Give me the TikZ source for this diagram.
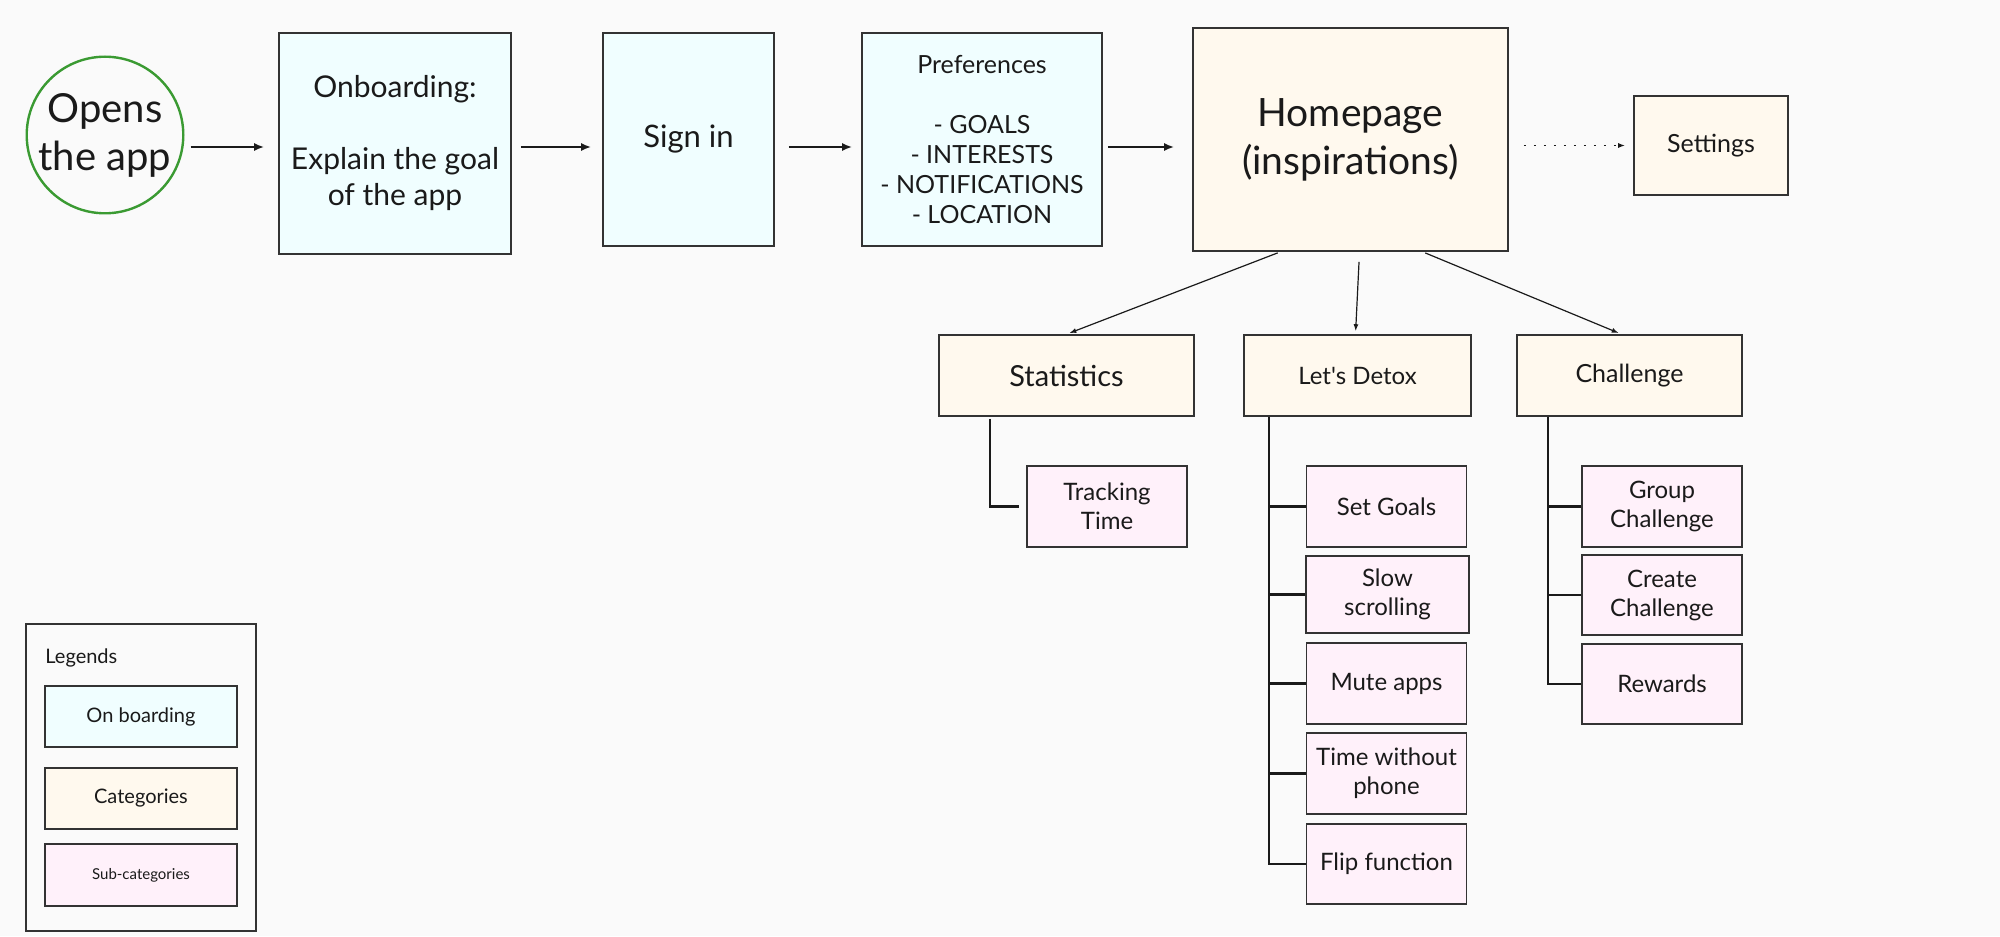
\documentclass[tikz,border=0pt]{standalone}
\usepackage{fontspec}
\setmainfont{Lato}
\usetikzlibrary{arrows.meta}
\definecolor{bgc}{HTML}{FAFAFA}
\definecolor{edge}{HTML}{333333}
\definecolor{ink}{HTML}{1A1A1A}
\definecolor{onbfill}{HTML}{F0FEFF}
\definecolor{catfill}{HTML}{FFF9EE}
\definecolor{subfill}{HTML}{FFF1FA}
\definecolor{startgreen}{HTML}{3A9A32}
\begin{document}
\begin{tikzpicture}[x=0.5pt, y=-0.5pt,
    box/.style = {draw=edge, line width=0.8pt, inner sep=0pt, align=center, text=ink},
    onbbox/.style = {box, fill=onbfill},
    catbox/.style = {box, fill=catfill},
    subbox/.style = {box, fill=subfill, minimum width=80pt, minimum height=40.5pt, font=\fontsize{12}{14.5}\selectfont},
    legbox/.style = {box, minimum width=96pt, minimum height=30.5pt},
    flow/.style = {-{Latex[length=5pt,width=4pt]}, line width=1pt, draw=ink},
    branch/.style = {-{Latex[length=3.5pt,width=2.5pt]}, line width=0.6pt, draw=ink},
    tree/.style = {line width=1.1pt, draw=ink}]

    \fill[bgc] (0,0) rectangle (2000,936);

    % onboarding row
    \node[draw=startgreen, line width=1.2pt, circle, fill=bgc, minimum size=78pt, inner sep=0pt, align=center, text=ink,
          font=\fontsize{20}{24}\selectfont] (open) at (105,135) {Opens\\the app};
    \node[onbbox, minimum width=116pt, minimum height=110.5pt, font=\fontsize{15}{18}\selectfont] (onb) at (395,143.5)
        {Onboarding:\\[18pt]Explain the goal\\of the app};
    \node[onbbox, minimum width=85.5pt, minimum height=106.5pt, font=\fontsize{15.5}{18}\selectfont] (sign) at (688.5,139.5) {Sign in};
    \node[onbbox, minimum width=120pt, minimum height=106.5pt, font=\fontsize{12.5}{15}\selectfont] (pref) at (982,139.5)
        {Preferences\\[15pt]- GOALS\\- INTERESTS\\- NOTIFICATIONS\\- LOCATION};
    \node[catbox, minimum width=157.5pt, minimum height=111.5pt, font=\fontsize{19.5}{24}\selectfont] (home) at (1350.5,139.5)
        {Homepage\\(inspirations)};
    \node[catbox, minimum width=77pt, minimum height=49.5pt, font=\fontsize{12.5}{15}\selectfont] (sett) at (1711,145.5) {Settings};

    % categories
    \node[catbox, minimum width=127.5pt, minimum height=40.5pt, font=\fontsize{14.5}{17}\selectfont] (stat) at (1066.5,375.5) {Statistics};
    \node[catbox, minimum width=113.5pt, minimum height=40.5pt, font=\fontsize{12}{15}\selectfont] (detox) at (1357.5,375.5) {Let\textquotesingle s Detox};
    \node[catbox, minimum width=112.5pt, minimum height=40.5pt, font=\fontsize{12.5}{15}\selectfont] (chal) at (1629.5,375.5) {Challenge};

    % sub-categories
    \node[subbox] (track) at (1107,506.5) {Tracking\\Time};
    \node[subbox] (goals) at (1386.5,506.5) {Set Goals};
    \node[subbox, minimum width=81.5pt, minimum height=38.5pt] (slow) at (1387.5,594.5) {Slow\\scrolling};
    \node[subbox] (mute) at (1386.5,683.5) {Mute apps};
    \node[subbox] (twp) at (1386.5,773.5) {Time without\\phone};
    \node[subbox, minimum height=40pt] (flip) at (1386.5,864) {Flip function};
    \node[subbox] (group) at (1662,506.5) {Group\\Challenge};
    \node[subbox, minimum height=40pt] (create) at (1662,595) {Create\\Challenge};
    \node[subbox, minimum height=40pt] (rew) at (1662,684) {Rewards};

    % legend
    \node[box, fill=bgc, minimum width=115pt, minimum height=153.5pt] (legend) at (141,777.5) {};
    \node[anchor=west, inner sep=0pt, text=ink, font=\fontsize{10}{12}\selectfont] (legtitle) at (45,658) {Legends};
    \node[legbox, fill=onbfill, font=\fontsize{10}{12}\selectfont] (leg1) at (141,716.5) {On boarding};
    \node[legbox, fill=catfill, font=\fontsize{10}{12}\selectfont] (leg2) at (141,798.5) {Categories};
    \node[legbox, fill=subfill, minimum height=31pt, font=\fontsize{7.5}{9}\selectfont] (leg3) at (141,875) {Sub-categories};

    % connectors
    \coordinate (row) at (0,147);
    \draw[flow, shorten <=3pt, shorten >=7pt] (open.east |- row) -- (onb.west |- row);
    \draw[flow, shorten <=4.5pt, shorten >=5.5pt] (onb.east |- row) -- (sign.west |- row);
    \draw[flow, shorten <=7pt, shorten >=4.5pt] (sign.east |- row) -- (pref.west |- row);
    \draw[flow, shorten <=2.5pt, shorten >=9pt] (pref.east |- row) -- (home.west |- row);
    \draw[-{Latex[length=3.5pt,width=2.5pt]}, line width=0.9pt, draw=ink, dash pattern=on 0.9pt off 4.1pt,
          shorten <=7.5pt, shorten >=4pt] (home.east |- sett.west) -- (sett.west);

    \draw[branch, shorten <=1.5pt, shorten >=1.5pt] ([xshift=-35pt]home.south) -- (stat.north);
    \draw[branch, shorten <=5pt, shorten >=1.5pt] ([xshift=4.5pt]home.south) -- ([xshift=-1pt]detox.north);
    \draw[branch, shorten <=1.5pt, shorten >=1.5pt] ([xshift=36pt]home.south) -- ([xshift=-4pt]chal.north);

    \draw[tree] ([xshift=26pt,yshift=-1pt]stat.south west) |- ([xshift=-3.5pt]track.west);
    \draw[tree] ([xshift=13pt]detox.south west) coordinate (dtrunk) |- (flip.west);
    \foreach \n in {goals, slow, mute, twp}
        \draw[tree] (\n.west) -- (\n.west -| dtrunk);
    \draw[tree] ([xshift=15.75pt]chal.south west) coordinate (ctrunk) |- (rew.west);
    \foreach \n in {group, create}
        \draw[tree] (\n.west) -- (\n.west -| ctrunk);
\end{tikzpicture}
\end{document}
